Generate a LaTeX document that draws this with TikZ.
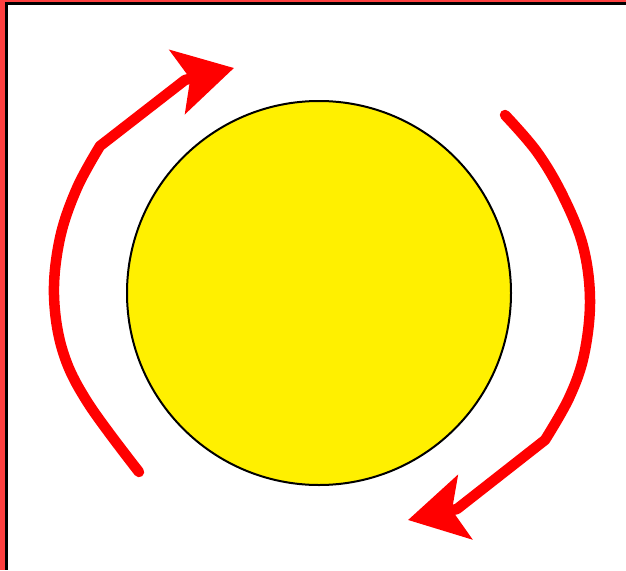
\documentclass[tikz,border=0pt]{standalone}
\usetikzlibrary{arrows.meta}
\definecolor{discyellow}{RGB}{255,240,0}
\definecolor{framered}{RGB}{255,64,64}
\begin{document}
\begin{tikzpicture}[x=1pt,y=-1pt,line join=round,line cap=round,
	turn/.style={draw=red,line width=10.5pt,-{Stealth[length=58pt,width=65pt,inset=13pt]}}]
	\useasboundingbox (0,0) rectangle (626,570);
	% frame at the top and left edges
	\fill[framered] (0,0) rectangle (626,2);
	\fill[framered] (0,0) rectangle (5,570);
	\fill[black] (5,2) rectangle (626,4.5);
	\fill[black] (5,2) rectangle (7.5,570);
	\node[circle,draw,line width=2pt,fill=discyellow,inner sep=0pt,minimum size=384pt] (disc) at (319,293) {};
	\coordinate (ltail) at (139,472); \coordinate (ltip) at (234,68);
	\coordinate (rtail) at (505,115); \coordinate (rtip) at (408,520);
	\draw[turn] plot[smooth,tension=0.6] coordinates {(139,472) (88,403) (63,352) (54,295) (60,238) (77,188) (100,146)} -- (185,80) -- (ltip);
	\draw[turn] plot[smooth,tension=0.6] coordinates {(505,115) (537,152) (563,196) (583,246) (590,300) (584,355) (569,398) (545,440)} -- (457,509) -- (rtip);
\end{tikzpicture}
\end{document}
